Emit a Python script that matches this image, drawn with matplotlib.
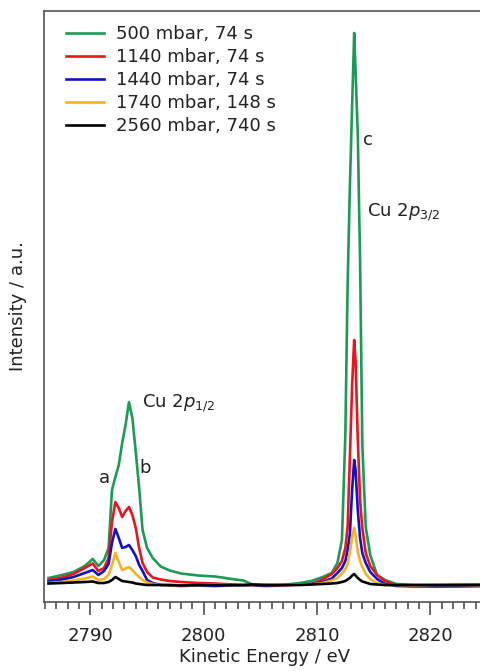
import matplotlib
matplotlib.use("Agg")
import matplotlib.pyplot as plt
from matplotlib.ticker import MultipleLocator

plt.rcParams['font.family'] = ['DejaVu Sans']
plt.rcParams['mathtext.fontset'] = 'dejavusans'

energy = [2786.3, 2787.5, 2788.5, 2789.5, 2790.2, 2790.7, 2791.2, 2791.6, 2791.9, 2792.2,
          2792.5, 2792.8, 2793.1, 2793.4, 2793.7, 2794.0, 2794.3, 2794.6, 2795.0, 2795.5,
          2796.2, 2797.0, 2798.0, 2799.5, 2801.0, 2802.5, 2803.5, 2804.3, 2805.5, 2807.0,
          2808.5, 2809.5, 2810.5, 2811.3, 2811.8, 2812.2, 2812.5, 2812.7, 2812.9, 2813.1,
          2813.28, 2813.4, 2813.6, 2813.8, 2814.0, 2814.3, 2814.7, 2815.3, 2816.0, 2817.0,
          2818.5, 2820.5, 2822.5, 2824.5]

i_500 = [7, 10, 13, 19, 26, 19, 25, 37, 95, 108,
         120, 142, 160, 183, 167, 133, 97, 55, 37, 27,
         18.5, 14.5, 11.5, 9.5, 8.5, 6, 4.5, 0.5, 0, 0,
         2, 4, 8, 12, 22, 45, 150, 300, 398, 480,
         552, 515, 450, 325, 140, 58, 30, 10, 5, 1,
         0, 0, 0.5, 0.5]

i_1140 = [5, 7.5, 11, 17, 21.5, 14, 17, 27, 63, 83,
          77, 68, 74, 78, 70, 57, 37, 22, 13, 7.5,
          5.5, 4, 3, 2, 1.5, 0.5, 0, -0.5, -1, -0.5,
          0.5, 1, 5.5, 11, 17, 24, 37, 58, 127, 200,
          245, 225, 145, 85, 57, 32, 19, 10, 4, -0.5,
          -1.5, -1, -1.5, -1]

i_1440 = [3.5, 5.5, 8, 12, 15, 10, 14, 21, 42, 56,
          47, 37, 38, 40, 35, 29, 20, 14, 5, 2,
          0, -0.5, -1, -0.5, -1, -0.5, -0.5, 0, -0.5, 0,
          0.5, 1, 3, 6.5, 12, 17, 24, 35, 51, 95,
          125, 115, 75, 47, 32, 22, 13, 6, 1, -1,
          -1, -1.5, -1, -1]

i_1740 = [2, 3, 4.5, 6.5, 8.5, 5, 6, 10, 20, 32,
          23, 15, 16.5, 18, 15, 11, 8, 5, 2.5, 1,
          0, 0, -0.5, 0, 0.5, 0, 0, 0, 0.5, 0,
          0.5, 0.5, 2, 4.5, 7, 11.5, 16, 21, 33, 48,
          57, 50, 33, 24, 18, 11, 6, 2, 0, 0,
          -0.5, 0, 0, -0.5]

i_2560 = [1.5, 2, 2.5, 3, 3.5, 2, 2, 3, 5, 8,
          6, 4, 3.5, 3, 2.5, 1.5, 1, 0.5, 0, 0,
          0, 0, -0.5, 0, 0, 0, 0, 0.5, 0, 0,
          0, 0.5, 1, 1.5, 2, 3, 4, 5.5, 7, 9.5,
          11, 9.5, 7, 5, 3.5, 2.5, 1, 0.5, 0, 0,
          0, 0, 0, 0]

labels = ['500 mbar, 74 s', '1140 mbar, 74 s', '1440 mbar, 74 s',
          '1740 mbar, 148 s', '2560 mbar, 740 s']
series = [i_500, i_1140, i_1440, i_1740, i_2560]
colors = ['#1e9a56', '#e8161c', '#1212c4', '#f6b126', '#000000']

W, H = 481, 671
fig = plt.figure(figsize=(W / 100, H / 100), dpi=100)
ax = fig.add_axes([44 / W, 1 - 602 / H, (W - 44) / W + 0.01, (602 - 11) / H])

for y, c, lab in zip(series, colors, labels):
    ax.plot(energy, y, color=c, lw=1.9, label=lab, solid_joinstyle='round')

ax.set_xlim(2785.9, 2824.9)
ax.set_ylim(-17, 574)

ax.xaxis.set_major_locator(MultipleLocator(10))
ax.xaxis.set_minor_locator(MultipleLocator(1))
ax.tick_params(axis='x', which='major', direction='out', length=9, width=1.1,
               colors='#444444', labelcolor='#222222', labelsize=13, pad=9)
ax.tick_params(axis='x', which='minor', direction='out', length=5, width=1.1, colors='#444444')
ax.set_yticks([])
for s in ['left', 'top', 'bottom']:
    ax.spines[s].set_color('#555555')
    ax.spines[s].set_linewidth(1.2)
ax.spines['right'].set_visible(False)

ax.set_xlabel('Kinetic Energy / eV', fontsize=13, color='#222222', labelpad=2)
ax.set_ylabel('Intensity / a.u.', fontsize=13, color='#222222', labelpad=12)

leg = ax.legend(loc='upper left', bbox_to_anchor=(0.022, 0.998), frameon=False,
                fontsize=13, handlelength=2.1, handletextpad=0.65, labelspacing=0.28,
                borderaxespad=0.3)
for t in leg.get_texts():
    t.set_color('#222222')

tc = '#222222'
ax.text(2791.27, 107, 'a', fontsize=13, ha='center', va='center', color=tc)
ax.text(2794.82, 117, 'b', fontsize=13, ha='center', va='center', color=tc)
ax.text(2794.52, 182, 'Cu 2$p_{1/2}$', fontsize=13, ha='left', va='center', color=tc)
ax.text(2814.52, 445, 'c', fontsize=13, ha='center', va='center', color=tc)
ax.text(2814.45, 373, 'Cu 2$p_{3/2}$', fontsize=13, ha='left', va='center', color=tc)

fig.savefig('out.png', dpi=100)
